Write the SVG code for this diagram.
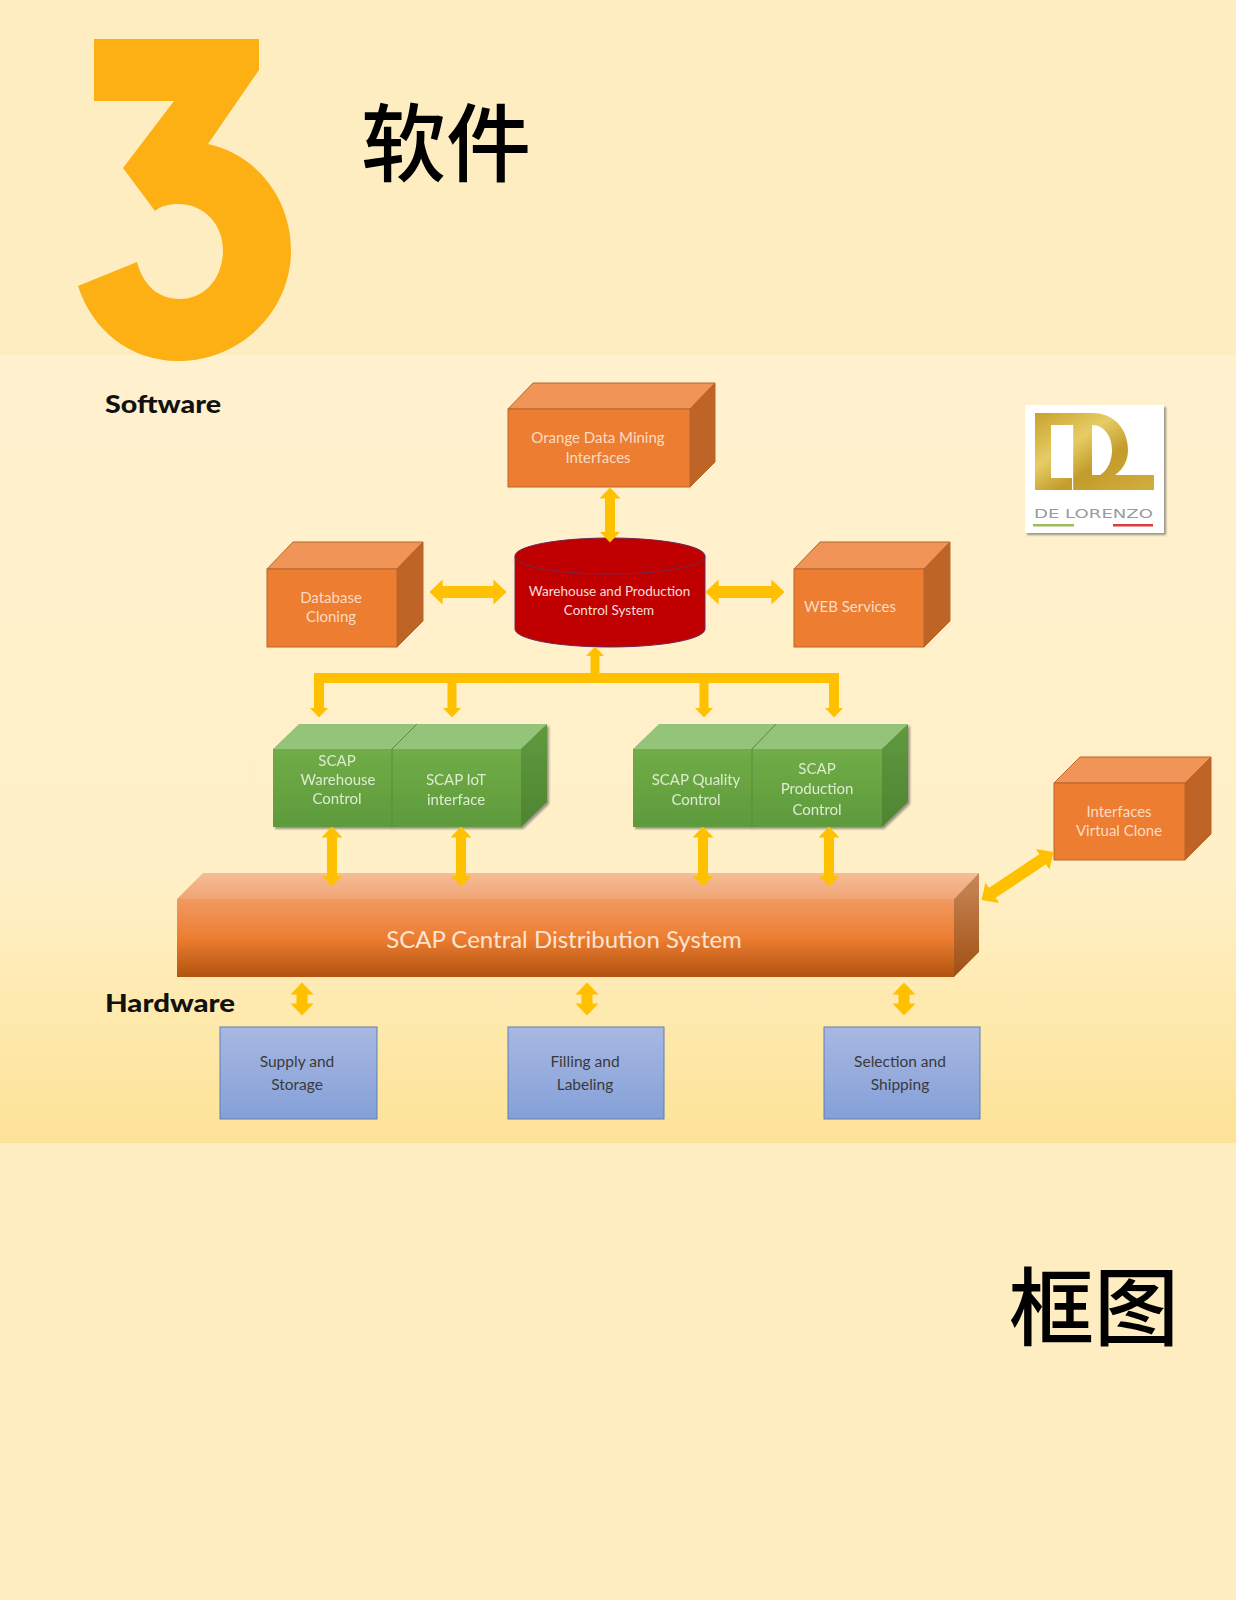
<svg xmlns="http://www.w3.org/2000/svg" width="1236" height="1600" viewBox="0 0 1236 1600">
<style>
text{font-family:"Lato","Liberation Sans","Noto Sans CJK SC",sans-serif;text-anchor:middle}
.cjk{font-family:"Noto Sans CJK SC",serif;font-size:85px;font-weight:500;fill:#000;text-anchor:start}
.head{font-family:"Lato","Liberation Sans",sans-serif;font-weight:900;font-size:25px;fill:#111;text-anchor:start}
.lt{fill:#FADBC4;font-size:15px}
.lg{fill:#DDEBD0;font-size:15px}
.dk{fill:#3A3A3A;font-size:15.5px}
.of{fill:#ED7D31;stroke:#B8662A;stroke-width:1}
.ot{fill:#F19458;stroke:#B8662A;stroke-width:1}
.os{fill:#BE6427;stroke:#B8662A;stroke-width:1}
.gf{fill:url(#gF)}
.gt{fill:#94C37A}
.gs{fill:url(#gS)}
.sep{stroke:#5A8C3C;stroke-width:1;fill:none}
.bl{fill:url(#bF);stroke:#5F7FB0;stroke-width:1}
.ar{stroke:#FFC000;fill:none}
.a2{marker-start:url(#ah);marker-end:url(#ah)}
.a1{marker-end:url(#ah)}
</style>
<defs>
<linearGradient id="bg" x1="0" y1="0" x2="0" y2="1"><stop offset="0" stop-color="#FFF1CE"/><stop offset=".65" stop-color="#FFF0C8"/><stop offset="1" stop-color="#FDE397"/></linearGradient>
<linearGradient id="gF" x1="0" y1="0" x2="0" y2="1"><stop offset="0" stop-color="#70AD47"/><stop offset="1" stop-color="#5E9A3C"/></linearGradient>
<linearGradient id="gS" x1="0" y1="0" x2="0" y2="1"><stop offset="0" stop-color="#5F9A3E"/><stop offset="1" stop-color="#4F8431"/></linearGradient>
<linearGradient id="bF" x1="0" y1="0" x2="0" y2="1"><stop offset="0" stop-color="#A8B8E2"/><stop offset="1" stop-color="#84A0D8"/></linearGradient>
<linearGradient id="cF" x1="0" y1="0" x2="0" y2="1"><stop offset="0" stop-color="#F19A62"/><stop offset=".5" stop-color="#ED7D31"/><stop offset="1" stop-color="#B1530F"/></linearGradient>
<linearGradient id="cT" x1="0" y1="0" x2="0" y2="1"><stop offset="0" stop-color="#F4BE98"/><stop offset="1" stop-color="#F1A473"/></linearGradient>
<linearGradient id="cS" x1="0" y1="0" x2="0" y2="1"><stop offset="0" stop-color="#C98858"/><stop offset="1" stop-color="#A04F12"/></linearGradient>
<linearGradient id="gold" x1="0" y1="0" x2="1" y2="1"><stop offset="0" stop-color="#C9A12C"/><stop offset=".35" stop-color="#E6CC66"/><stop offset=".6" stop-color="#C39C2A"/><stop offset="1" stop-color="#D2AE40"/></linearGradient>
<marker id="ah" viewBox="0 0 1.1 2.1" refX=".05" refY="1.05" markerWidth="1.1" markerHeight="2.1" orient="auto-start-reverse"><path d="M0 0L1.1 1.05L0 2.1Z" fill="#FFC000"/></marker>
<filter id="sh" x="-10%" y="-10%" width="125%" height="125%"><feDropShadow dx="2" dy="2" stdDeviation="1" flood-color="#555" flood-opacity=".6"/></filter>
</defs>

<rect width="1236" height="1600" fill="#FEEDC0"/>
<rect y="355" width="1236" height="788" fill="url(#bg)"/>

<path id="numeral" fill="#FCB013" d="M94 39H259V70L208 144C258 155 291 200 291 250C291 312 240 361 178 361C130 361 92 330 78 286L137 262C143 285 158 299 180 299C205 299 223 278 223 250C223 225 205 204 178 204C169 204 161 206 155 211L123 168L174 101H94Z"/>
<text class="cjk" x="361" y="175">软件</text>
<text class="cjk" x="1009" y="1339">框图</text>
<text class="head" x="105" y="413" textLength="116" lengthAdjust="spacingAndGlyphs">Software</text>
<text class="head" x="105" y="1012" textLength="130" lengthAdjust="spacingAndGlyphs">Hardware</text>

<g id="logo">
<rect x="1025" y="405" width="139" height="128" fill="#fff" filter="url(#sh)"/>
<path fill="url(#gold)" fill-rule="evenodd" d="M1035 413H1092C1115 413 1128 430 1128 450C1128 462 1122 470 1115 475H1154V490H1035ZM1051 425V478H1072V425ZM1092 425V475H1100C1108 470 1112 460 1112 450C1112 436 1104 425 1092 425Z"/>
<rect x="1072" y="425" width="1.2" height="65" fill="#fff"/>
<text x="1093.500" y="518" font-size="12" fill="#9A9A9A" textLength="119" lengthAdjust="spacingAndGlyphs" style="font-family:'DejaVu Sans',sans-serif">DE LORENZO</text>
<rect x="1033" y="524" width="41" height="2.500" fill="#9DBB5A"/>
<rect x="1113" y="524" width="40" height="2.500" fill="#D83C3C"/>
</g>

<g id="node-orange">
<path class="ot" d="M508 409L533 383H715L690 409Z"/><path class="os" d="M690 409L715 383V462L690 487Z"/><rect class="of" x="508" y="409" width="182" height="78"/>
<text class="lt" x="598" y="443">Orange Data Mining</text><text class="lt" x="598" y="463">Interfaces</text>
</g>
<g id="node-database">
<path class="ot" d="M267 569L293 542H423L397 569Z"/><path class="os" d="M397 569L423 542V621L397 647Z"/><rect class="of" x="267" y="569" width="130" height="78"/>
<text class="lt" x="331" y="603">Database</text><text class="lt" x="331" y="622">Cloning</text>
</g>
<g id="node-warehouse">
<path d="M515 556V629C515 639 557 647 610 647S705 639 705 629V556Z" fill="#C00000" stroke="#6B2A55" stroke-width="1"/>
<ellipse cx="610" cy="556" rx="95" ry="18" fill="#C00000" stroke="#6B2A55" stroke-width="1"/>
<text x="609.500" y="596" font-size="13.500" fill="#F6DEDA">Warehouse and Production</text><text x="609" y="615" font-size="13.500" fill="#F6DEDA">Control System</text>
</g>
<g id="node-web">
<path class="ot" d="M794 569L820 542H950L924 569Z"/><path class="os" d="M924 569L950 542V621L924 647Z"/><rect class="of" x="794" y="569" width="130" height="78"/>
<text class="lt" x="850" y="612">WEB Services</text>
</g>
<g id="node-interfaces">
<path class="ot" d="M1054 783L1080 757H1211L1185 783Z"/><path class="os" d="M1185 783L1211 757V834L1185 860Z"/><rect class="of" x="1054" y="783" width="131" height="77"/>
<text class="lt" x="1119" y="817">Interfaces</text><text class="lt" x="1119" y="836">Virtual Clone</text>
</g>

<g id="node-scap-warehouse" filter="url(#sh)">
<path class="gt" d="M273 749L299 724H417L392 749Z"/><rect class="gf" x="273" y="749" width="119" height="78"/>
<text class="lg" x="337" y="766">SCAP</text><text class="lg" x="338" y="785">Warehouse</text><text class="lg" x="337" y="804">Control</text>
</g>
<g id="node-scap-iot" filter="url(#sh)">
<path class="gt" d="M392 749L417 724H547L521 749Z"/><path class="gs" d="M521 749L547 724V802L521 827Z"/><rect class="gf" x="392" y="749" width="129" height="78"/>
<path class="sep" d="M417 724L392 749V827"/>
<text class="lg" x="456" y="785">SCAP IoT</text><text class="lg" x="456" y="805">interface</text>
</g>
<g id="node-scap-quality" filter="url(#sh)">
<path class="gt" d="M633 749L659 724H776L752 749Z"/><rect class="gf" x="633" y="749" width="119" height="78"/>
<text class="lg" x="696" y="785">SCAP Quality</text><text class="lg" x="696" y="805">Control</text>
</g>
<g id="node-scap-production" filter="url(#sh)">
<path class="gt" d="M752 749L776 724H908L882 749Z"/><path class="gs" d="M882 749L908 724V802L882 827Z"/><rect class="gf" x="752" y="749" width="130" height="78"/>
<path class="sep" d="M776 724L752 749V827"/>
<text class="lg" x="817" y="774">SCAP</text><text class="lg" x="817" y="794">Production</text><text class="lg" x="817" y="815">Control</text>
</g>

<g id="node-central">
<path fill="url(#cT)" d="M177 899L203 873H979L954 899Z"/><path fill="url(#cS)" d="M954 899L979 873V952L954 977Z"/><rect fill="url(#cF)" x="177" y="899" width="777" height="78"/>
<text x="564" y="948" font-size="24" fill="#FCE4D2">SCAP Central Distribution System</text>
</g>

<g id="node-supply"><rect class="bl" x="220" y="1027" width="157" height="92"/><text class="dk" x="297" y="1067">Supply and</text><text class="dk" x="297" y="1090">Storage</text></g>
<g id="node-filling"><rect class="bl" x="508" y="1027" width="156" height="92"/><text class="dk" x="585" y="1067">Filling and</text><text class="dk" x="585" y="1090">Labeling</text></g>
<g id="node-selection"><rect class="bl" x="824" y="1027" width="156" height="92"/><text class="dk" x="900" y="1067">Selection and</text><text class="dk" x="900" y="1090">Shipping</text></g>

<g id="connectors">
<line class="ar a2" stroke-width="10" x1="610" y1="498" x2="610" y2="532"/>
<line class="ar a2" stroke-width="12" x1="442" y1="592" x2="494" y2="592"/>
<line class="ar a2" stroke-width="12" x1="718" y1="592" x2="772" y2="592"/>
<line class="ar a1" stroke-width="9" x1="595" y1="678" x2="595" y2="656"/>
<path class="ar" stroke-width="10" d="M319 708V678H834V708"/>
<line class="ar a1" stroke-width="9" x1="319" y1="700" x2="319" y2="708"/>
<line class="ar a1" stroke-width="9" x1="452" y1="678" x2="452" y2="708"/>
<line class="ar a1" stroke-width="9" x1="704" y1="678" x2="704" y2="708"/>
<line class="ar a1" stroke-width="9" x1="834" y1="700" x2="834" y2="708"/>
<line class="ar a2" stroke-width="10" x1="332" y1="837" x2="332" y2="876"/>
<line class="ar a2" stroke-width="10" x1="461" y1="837" x2="461" y2="876"/>
<line class="ar a2" stroke-width="10" x1="703" y1="837" x2="703" y2="876"/>
<line class="ar a2" stroke-width="10" x1="829" y1="837" x2="829" y2="876"/>
<line class="ar a2" stroke-width="12" x1="992" y1="893" x2="1043" y2="859"/>
<line class="ar a2" stroke-width="11" x1="302" y1="994" x2="302" y2="1004"/>
<line class="ar a2" stroke-width="11" x1="587" y1="994" x2="587" y2="1004"/>
<line class="ar a2" stroke-width="11" x1="904" y1="994" x2="904" y2="1004"/>
</g>
</svg>
